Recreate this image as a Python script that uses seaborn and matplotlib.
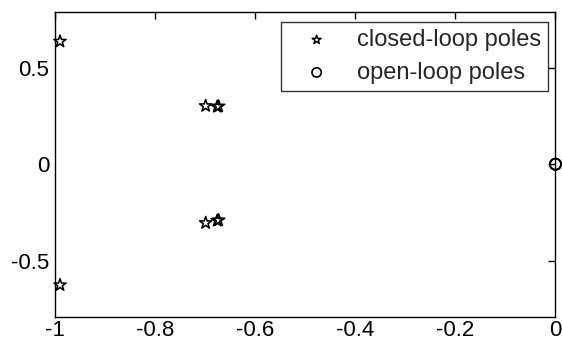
import matplotlib
matplotlib.use("Agg")
import matplotlib.pyplot as plt
import seaborn as sns
import pandas as pd

# closed-loop poles (real, imag)
closed_re = [-0.99, -0.99, -0.699, -0.699, -0.676, -0.673, -0.676, -0.673]
closed_im = [0.636, -0.626, 0.302, -0.304, 0.298, 0.300, -0.292, -0.290]
# open-loop poles
open_re = [0.0, 0.0, 0.0]
open_im = [0.0, 0.0, 0.0]

xticks = [-1, -0.8, -0.6, -0.4, -0.2, 0]
xticklabels = ["-1", "-0.8", "-0.6", "-0.4", "-0.2", "0"]
yticks = [-0.5, 0, 0.5]
yticklabels = ["-0.5", "0", "0.5"]

sns.set_style("white")
plt.rcParams["font.family"] = ["Liberation Sans", "DejaVu Sans"]

fig = plt.figure(figsize=(5.62, 3.46), dpi=100)
ax = fig.add_axes([0.0979, 0.0847, 0.8905, 0.8792])

df_c = pd.DataFrame({"re": closed_re, "im": closed_im})
df_o = pd.DataFrame({"re": open_re, "im": open_im})

sns.scatterplot(data=df_c, x="re", y="im", marker="*", s=85,
                facecolor="none", edgecolor="black", linewidth=1.1,
                label="closed-loop poles", ax=ax, clip_on=False, zorder=3)
sns.scatterplot(data=df_o, x="re", y="im", marker="o", s=65,
                facecolor="none", edgecolor="black", linewidth=1.2,
                label="open-loop poles", ax=ax, clip_on=False, zorder=3)

ax.set_xlim(-1, 0)
ax.set_ylim(-0.79, 0.786)
ax.set_xticks(xticks)
ax.set_xticklabels(xticklabels)
ax.set_yticks(yticks)
ax.set_yticklabels(yticklabels)
ax.set_xlabel("")
ax.set_ylabel("")
ax.tick_params(direction="in", length=5, width=1, top=True, right=True,
               labelsize=16, colors="black")
ax.tick_params(axis="x", pad=2.5)
ax.tick_params(axis="y", pad=4)
for s in ax.spines.values():
    s.set_color("black")
    s.set_linewidth(1)

leg = ax.legend(loc="upper right", bbox_to_anchor=(0.985, 0.969),
                fontsize=17, frameon=True, fancybox=False,
                borderpad=0.3, handletextpad=0.5, labelspacing=0.45,
                borderaxespad=0.0, handlelength=2.4)
leg.get_frame().set_edgecolor("black")
leg.get_frame().set_linewidth(1)
for h in leg.legend_handles:
    h.set_sizes([45])

fig.savefig("out.png", dpi=100)
